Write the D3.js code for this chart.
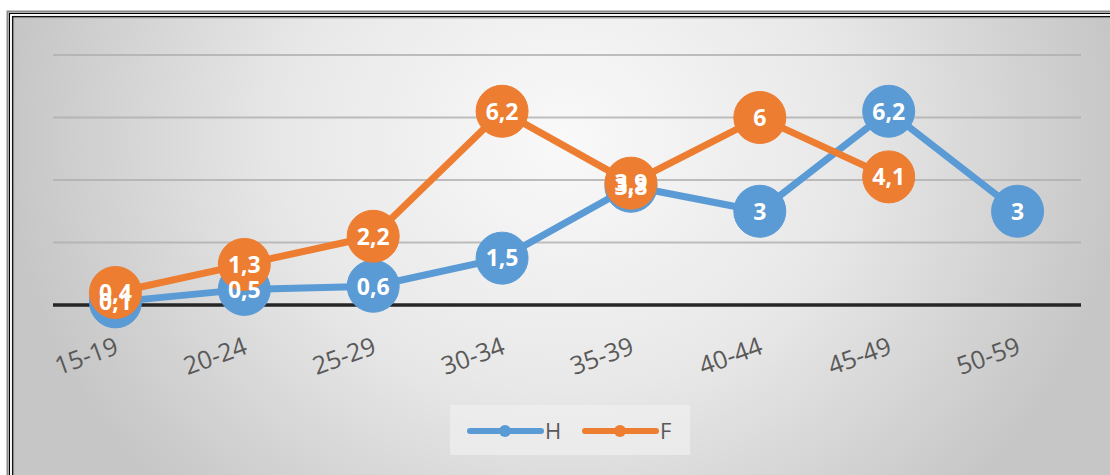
<!DOCTYPE html>
<html><head><meta charset="utf-8">
<script src="https://cdn.jsdelivr.net/npm/d3@7/dist/d3.min.js"></script>
<style>html,body{margin:0;padding:0;background:#fff;overflow:hidden}svg{display:block}</style>
</head><body>
<svg id="c" width="1110" height="475"></svg>
<script>
const categories = ["15-19","20-24","25-29","30-34","35-39","40-44","45-49","50-59"];
const seriesH = [0.1, 0.5, 0.6, 1.5, 3.8, 3, 6.2, 3];
const seriesF = [0.4, 1.3, 2.2, 6.2, 3.9, 6, 4.1, null];
const gridTicks = [0, 2, 4, 6, 8];
const seriesNames = ["H", "F"];
const colors = {H: "#5B9BD5", F: "#ED7D31"};

const svg = d3.select("#c");
const defs = svg.append("defs");
const rg = defs.append("radialGradient").attr("id","bg")
  .attr("gradientUnits","userSpaceOnUse")
  .attr("cx",565).attr("cy",140).attr("r",560).attr("fx",565).attr("fy",140)
  .attr("gradientTransform","translate(565,140) scale(1,0.9) translate(-565,-140)");
rg.append("stop").attr("offset","0%").attr("stop-color","#f9f9f9");
rg.append("stop").attr("offset","50%").attr("stop-color","#e8e8e8");
rg.append("stop").attr("offset","100%").attr("stop-color","#c6c6c6");

// frame
svg.append("rect").attr("x",13).attr("y",17).attr("width",1110).attr("height",470).attr("fill","url(#bg)");
svg.append("rect").attr("x",7.5).attr("y",11.5).attr("width",1120).attr("height",480).attr("fill","none").attr("stroke","#8a8a8a").attr("stroke-width",2);
svg.append("rect").attr("x",9.5).attr("y",13.5).attr("width",1120).attr("height",480).attr("fill","none").attr("stroke","#000").attr("stroke-width",1.2);
svg.append("rect").attr("x",11).attr("y",15).attr("width",1120).attr("height",480).attr("fill","none").attr("stroke","#fff").attr("stroke-width",1.5);
svg.append("rect").attr("x",12.7).attr("y",16.7).attr("width",1120).attr("height",480).attr("fill","none").attr("stroke","#111").attr("stroke-width",1.5);
svg.append("rect").attr("x",14.2).attr("y",18.2).attr("width",1120).attr("height",480).attr("fill","none").attr("stroke","#bdbdbd").attr("stroke-width",1);

const x = d3.scalePoint().domain(categories).range([51, 1082]).padding(0.5);
const y = d3.scaleLinear().domain([0, 8]).range([305, 55]);

// gridlines
const grid = svg.append("g");
grid.selectAll("line").data(gridTicks.filter(d => d !== 0)).join("line")
  .attr("x1", 53).attr("x2", 1081)
  .attr("y1", d => y(d)).attr("y2", d => y(d))
  .attr("stroke", "#b0b0b0").attr("stroke-width", 2).attr("opacity", 0.8);
grid.append("line").attr("x1", 53).attr("x2", 1081).attr("y1", y(0)).attr("y2", y(0))
  .attr("stroke", "#262626").attr("stroke-width", 3.5);

// x axis labels
const xAxis = d3.axisBottom(x).tickSize(0).tickPadding(0);
const gx = svg.append("g").attr("transform", `translate(0,${y(0)})`).call(xAxis);
gx.select(".domain").remove();
gx.selectAll("text")
  .attr("font-family", "'Open Sans', sans-serif").attr("font-size", 25).attr("fill", "#595959")
  .attr("text-anchor", "end").attr("dy", 0)
  .attr("transform", "translate(4,48) rotate(-20)");

const data = {H: seriesH, F: seriesF};
const line = d3.line().defined(d => d.v != null).x(d => x(d.c)).y(d => y(d.v));
const pts = name => categories.map((c, i) => ({c, v: data[name][i]})).filter(d => d.v != null);

seriesNames.forEach(name => {
  const g = svg.append("g");
  g.append("path").datum(categories.map((c, i) => ({c, v: data[name][i]})))
    .attr("d", line).attr("fill", "none").attr("stroke", colors[name]).attr("stroke-width", 7).attr("stroke-linejoin","round");
  g.selectAll("circle").data(pts(name)).join("circle")
    .attr("cx", d => x(d.c)).attr("cy", d => y(d.v)).attr("r", 26)
    .attr("fill", colors[name]).attr("stroke", colors[name]).attr("stroke-width", 1);
});

const fmt = v => String(v).replace(".", ",");
seriesNames.forEach(name => {
  svg.append("g").selectAll("text").data(pts(name)).join("text")
    .attr("x", d => x(d.c)).attr("y", d => y(d.v)).attr("dy", "0.36em")
    .attr("text-anchor", "middle")
    .attr("font-family", "'Open Sans', sans-serif").attr("font-weight", "bold").attr("font-size", 23)
    .attr("fill", "#fff").text(d => fmt(d.v));
});

// legend
const lg = svg.append("g");
lg.append("rect").attr("x", 450).attr("y", 405).attr("width", 240).attr("height", 50).attr("fill", "#efefef").attr("opacity", 0.7);
const items = [{name: "H", x0: 470}, {name: "F", x0: 585}];
items.forEach(it => {
  lg.append("line").attr("x1", it.x0).attr("x2", it.x0 + 71).attr("y1", 431).attr("y2", 431)
    .attr("stroke", colors[it.name]).attr("stroke-width", 6).attr("stroke-linecap", "round");
  lg.append("circle").attr("cx", it.x0 + 35).attr("cy", 431).attr("r", 6).attr("fill", colors[it.name]);
  lg.append("text").attr("x", it.x0 + 75).attr("y", 431).attr("dy", "0.36em")
    .attr("font-family", "'Open Sans', sans-serif").attr("font-size", 22).attr("fill", "#595959").text(it.name);
});
</script>
</body></html>
